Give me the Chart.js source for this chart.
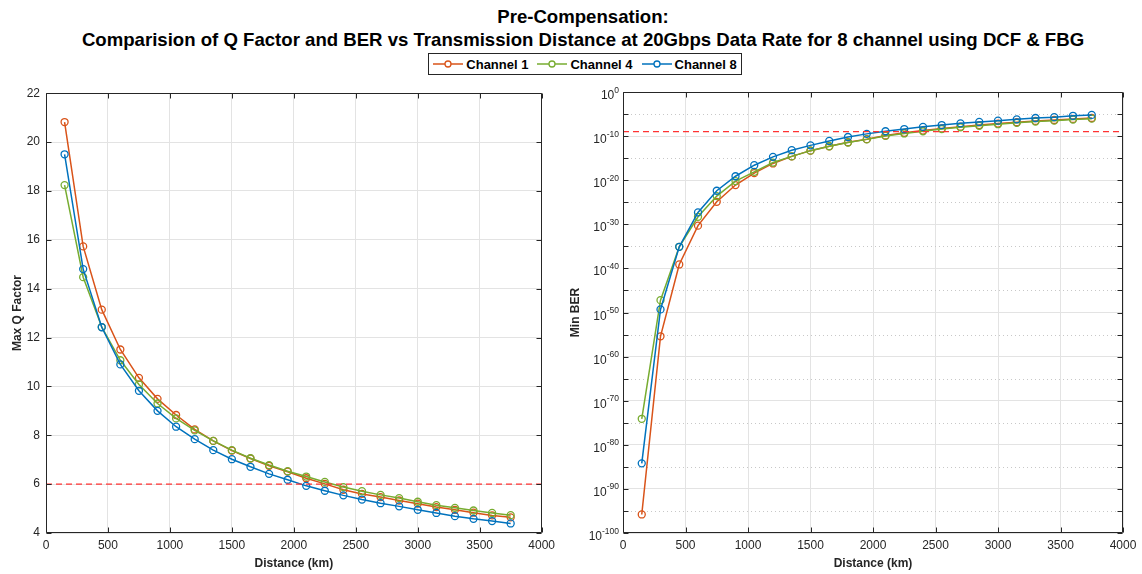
<!DOCTYPE html>
<html>
<head>
<meta charset="utf-8">
<script src="https://cdn.jsdelivr.net/npm/chart.js@4.4.1/dist/chart.umd.min.js"></script>
<style>
  body { margin:0; background:#fff; width:1142px; height:574px; position:relative; overflow:hidden;
         font-family:"Liberation Sans", Arial, sans-serif; }
  #title { position:absolute; left:583px; top:5px; transform:translateX(-50%); text-align:center;
           font-weight:bold; font-size:18.6px; line-height:23px; white-space:nowrap; color:#000; }
  #legend { position:absolute; left:428px; top:53px; width:312px; height:20px; border:1px solid #262626;
            display:flex; align-items:center; justify-content:center; gap:9px;
            font-weight:bold; font-size:13px; color:#000; background:#fff; }
  #legend span { display:flex; align-items:center; gap:3px; }
  canvas { position:absolute; top:80px; }
</style>
</head>
<body>
<div id="title">Pre-Compensation:<br>Comparision of Q Factor and BER vs Transmission Distance at 20Gbps Data Rate for 8 channel using DCF &amp; FBG</div>
<div id="legend"></div>
<canvas id="qChart" width="560" height="494" style="left:0"></canvas>
<canvas id="berChart" width="582" height="494" style="left:560px"></canvas>
<script>
// distance in km
const distance = [150, 300, 450, 600, 750, 900, 1050, 1200, 1350, 1500, 1650, 1800, 1950,
                  2100, 2250, 2400, 2550, 2700, 2850, 3000, 3150, 3300, 3450, 3600, 3750];

// max Q factor
const q1 = [20.82, 15.73, 13.14, 11.51, 10.35, 9.49, 8.83, 8.24, 7.77, 7.37, 7.05, 6.75, 6.51,
            6.24, 6.01, 5.77, 5.60, 5.47, 5.33, 5.20, 5.06, 4.95, 4.83, 4.72, 4.64];
const q4 = [18.24, 14.47, 12.43, 11.07, 10.08, 9.30, 8.69, 8.20, 7.77, 7.39, 7.06, 6.78, 6.53,
            6.31, 6.09, 5.88, 5.71, 5.56, 5.43, 5.28, 5.14, 5.03, 4.92, 4.82, 4.73];
const q8 = [19.50, 14.80, 12.42, 10.90, 9.82, 9.00, 8.35, 7.84, 7.39, 7.02, 6.71, 6.42, 6.18,
            5.93, 5.73, 5.54, 5.37, 5.22, 5.09, 4.95, 4.82, 4.69, 4.58, 4.49, 4.39];

// min BER
const ber1 = [1.6e-96, 4.0e-56, 7.9e-40, 5.0e-31, 1.26e-25, 7.9e-22, 4.0e-19, 6.3e-17, 2.5e-15,
              5.0e-14, 5.0e-13, 4.0e-12, 2.0e-11, 1.4e-10, 5.6e-10, 1.8e-9, 5.6e-9, 1.4e-8,
              3.2e-8, 7.1e-8, 1.4e-7, 2.8e-7, 4.5e-7, 7.9e-7, 1.26e-6];
const ber4 = [7.9e-75, 6.3e-48, 7.9e-36, 5.0e-29, 2.5e-24, 6.3e-21, 7.9e-19, 1.0e-16, 2.5e-15,
              5.0e-14, 5.0e-13, 3.5e-12, 1.8e-11, 1.1e-10, 4.0e-10, 1.26e-9, 4.0e-9, 1.0e-8,
              2.2e-8, 5.0e-8, 1.0e-7, 2.0e-7, 3.2e-7, 5.6e-7, 8.9e-7];
const ber8 = [6.3e-85, 5.0e-50, 7.9e-36, 5.0e-28, 4.0e-23, 7.9e-20, 2.5e-17, 2.0e-15, 6.3e-14,
              7.9e-13, 7.9e-12, 6.3e-11, 3.2e-10, 1.26e-9, 4.0e-9, 1.26e-8, 3.2e-8, 7.9e-8,
              1.6e-7, 3.2e-7, 6.3e-7, 1.26e-6, 2.0e-6, 4.0e-6, 6.3e-6];

const channels = ['Channel 1', 'Channel 4', 'Channel 8'];
const colors = ['#D95319', '#77AC30', '#0072BD'];
const qLimit = 6;
const berLimit = 1e-9;

const FONT = '"Liberation Sans", Arial, sans-serif';
const AX = '#262626';
const GRID = '#e3e3e3';

// html legend
document.getElementById('legend').innerHTML = channels.map((c, i) =>
  `<span><svg width="30" height="12"><line x1="0" y1="6" x2="30" y2="6" stroke="${colors[i]}" stroke-width="1.5"/>` +
  `<circle cx="15" cy="6" r="3" fill="#fff" stroke="${colors[i]}" stroke-width="1.3"/></svg>${c}</span>`).join('');

const pts = ys => distance.map((d, i) => ({x: d, y: ys[i]}));

function series(ys, i) {
  return {
    label: channels[i], data: pts(ys), borderColor: colors[i], borderWidth: 1.5,
    pointRadius: 3.5, pointBorderWidth: 1.3, pointBackgroundColor: 'rgba(0,0,0,0)',
    pointBorderColor: colors[i], order: 3 - i
  };
}
function limitLine(v) {
  return {
    data: [{x: 0, y: v}, {x: 4000, y: v}], borderColor: '#ff3333', borderWidth: 1.3,
    borderDash: [6, 4], pointRadius: 0, order: 0
  };
}

// box, inward ticks, dotted minor grid, 10^n labels
const frame = {
  id: 'frame',
  beforeDatasetsDraw(chart) {
    if (!chart.options.plugins.frame.log) return;
    const {ctx, chartArea: a, scales: {y}} = chart;
    ctx.save();
    ctx.strokeStyle = '#c8c8c8'; ctx.lineWidth = 1; ctx.setLineDash([1, 3]);
    y.ticks.forEach(t => {
      if (t.label !== '') return;
      const p = Math.round(y.getPixelForValue(t.value)) + 0.5;
      ctx.beginPath(); ctx.moveTo(a.left, p); ctx.lineTo(a.right, p); ctx.stroke();
    });
    ctx.restore();
  },
  afterDraw(chart) {
    const {ctx, chartArea: a, scales: {x, y}} = chart;
    const L = Math.round(a.left) + 0.5, R = Math.round(a.right) - 0.5;
    const T = Math.round(a.top) + 0.5, B = Math.round(a.bottom) - 0.5;
    ctx.save();
    ctx.strokeStyle = AX; ctx.lineWidth = 1;
    ctx.beginPath();
    ctx.moveTo(L, T); ctx.lineTo(R, T); ctx.lineTo(R, B); ctx.lineTo(L, B); ctx.closePath();
    x.ticks.forEach(t => {
      const p = Math.round(x.getPixelForValue(t.value)) + 0.5;
      ctx.moveTo(p, B); ctx.lineTo(p, B - 5);
      ctx.moveTo(p, T); ctx.lineTo(p, T + 5);
    });
    y.ticks.forEach(t => {
      const p = Math.round(y.getPixelForValue(t.value)) + 0.5;
      ctx.moveTo(L, p); ctx.lineTo(L + 5, p);
      ctx.moveTo(R, p); ctx.lineTo(R - 5, p);
    });
    ctx.stroke();

    if (chart.options.plugins.frame.log) {
      ctx.fillStyle = AX;
      ctx.textAlign = 'right';
      ctx.textBaseline = 'alphabetic';
      const right = a.left - 4;
      y.ticks.forEach(t => {
        if (t.label === '') return;
        const p = y.getPixelForValue(t.value);
        ctx.font = '8.5px ' + FONT;
        const w = ctx.measureText(t.label).width;
        ctx.fillText(t.label, right, p + 0.5);
        ctx.font = '12px ' + FONT;
        ctx.fillText('10', right - w, p + 7);
      });
    }
    ctx.restore();
  }
};

function xAxis() {
  return {
    type: 'linear', min: 0, max: 4000,
    ticks: {stepSize: 500, color: AX, font: {family: FONT, size: 12}, padding: 5, maxRotation: 0,
            callback: v => String(v)},
    grid: {color: GRID, drawTicks: false}, border: {display: false},
    title: {display: true, text: 'Distance (km)', color: AX, font: {family: FONT, size: 12, weight: 'bold'}, padding: {top: 0, bottom: 3}},
    afterFit: s => { s.height = 41; }
  };
}

function baseOptions(padRight) {
  return {
    responsive: false, animation: false, devicePixelRatio: 1,
    layout: {padding: {left: 0, top: 12, right: padRight, bottom: 0}},
    plugins: {legend: {display: false}, tooltip: {enabled: false}, frame: {}}
  };
}

// Q factor chart
const qOpts = baseOptions(15);
qOpts.scales = {
  x: xAxis(),
  y: {
    type: 'linear', min: 4, max: 22,
    ticks: {stepSize: 2, color: AX, font: {family: FONT, size: 12}, padding: 6},
    grid: {color: GRID, drawTicks: false}, border: {display: false},
    title: {display: true, text: 'Max Q Factor', color: AX, font: {family: FONT, size: 12, weight: 'bold'}, padding: {top: 10, bottom: 0}},
    afterFit: s => { s.width = 46; }
  }
};
new Chart(document.getElementById('qChart'), {
  type: 'line',
  data: {datasets: [series(q1, 0), series(q4, 1), series(q8, 2), limitLine(qLimit)]},
  options: qOpts,
  plugins: [frame]
});

// BER chart
const berOpts = baseOptions(19);
berOpts.plugins.frame = {log: true};
berOpts.scales = {
  x: xAxis(),
  y: {
    type: 'logarithmic', min: 1e-100, max: 1,
    afterBuildTicks: s => {
      const t = [];
      for (let e = -100; e <= 0; e += 5) t.push({value: Math.pow(10, e)});
      s.ticks = t;
    },
    ticks: {
      display: false, autoSkip: false,
      callback: v => {
        const e = Math.round(Math.log10(v));
        return e % 10 === 0 ? String(e) : '';
      }
    },
    grid: {
      drawTicks: false,
      color: c => (c.tick && Math.round(Math.log10(c.tick.value)) % 10 !== 0) ? 'rgba(0,0,0,0)' : GRID
    },
    border: {display: false},
    title: {display: true, text: 'Min BER', color: AX, font: {family: FONT, size: 12, weight: 'bold'}, padding: {top: 8, bottom: 0}},
    afterFit: s => { s.width = 63; }
  }
};
new Chart(document.getElementById('berChart'), {
  type: 'line',
  data: {datasets: [series(ber1, 0), series(ber4, 1), series(ber8, 2), limitLine(berLimit)]},
  options: berOpts,
  plugins: [frame]
});
</script>
</body>
</html>
